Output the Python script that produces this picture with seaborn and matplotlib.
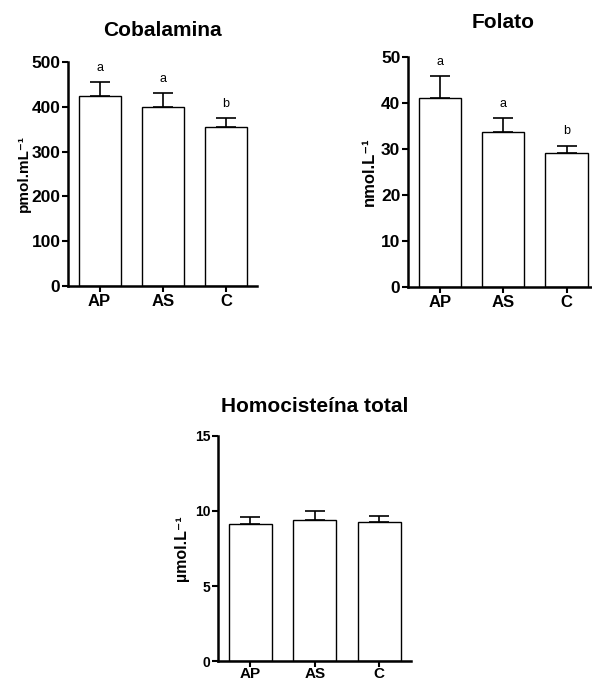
import seaborn as sns
import matplotlib.pyplot as plt
import numpy as np
import pandas as pd

groups = ["AP", "AS", "C"]

cob_mean = [423, 399, 355]
cob_sem = [32, 31, 20]
cob_letters = ["a", "a", "b"]

fol_mean = [41.1, 33.6, 29.2]
fol_sem = [4.7, 3.1, 1.5]
fol_letters = ["a", "a", "b"]

hcy_mean = [9.11, 9.42, 9.26]
hcy_sem = [0.50, 0.57, 0.38]

sns.set_style("ticks")
plt.rcParams['font.family'] = ['Liberation Sans', 'DejaVu Sans']
plt.rcParams['text.color'] = 'black'
plt.rcParams['axes.labelcolor'] = 'black'

fig = plt.figure(figsize=(5.92, 6.84), dpi=100)

ax1 = fig.add_axes([0.1149, 0.5819, 0.3193, 0.3275])
ax2 = fig.add_axes([0.6892, 0.5804, 0.3203, 0.3363])
ax3 = fig.add_axes([0.3682, 0.0336, 0.3260, 0.3290])


def panel(ax, mean, sem, title, ylabel, yticks, letters=None, yfs=12.5, xfs=12,
          lfs=11, title_pad=19, lpad=3, xpad=1.5):
    df = pd.DataFrame({"grupo": groups, "valor": mean})
    sns.barplot(data=df, x="grupo", y="valor", color="white", edgecolor="black",
                linewidth=1.0, width=0.667, errorbar=None, ax=ax, saturation=1)
    x = np.arange(len(groups))
    ax.errorbar(x, mean, yerr=[np.zeros(len(sem)), sem], fmt="none", ecolor="black",
                elinewidth=1.2, capsize=7.5, capthick=1.2)
    if letters:
        for xi, m, s, lt in zip(x, mean, sem, letters):
            ax.annotate(lt, (xi, m + s), xytext=(0, 6), textcoords="offset points",
                        ha="center", va="bottom", fontsize=9)
    ax.set_xlim(-0.5, 2.49)
    ax.set_ylim(yticks[0], yticks[-1])
    ax.set_yticks(yticks)
    ax.set_xlabel("")
    ax.set_ylabel(ylabel, fontsize=lfs, fontweight="bold", labelpad=lpad)
    ax.set_title(title, fontsize=15, fontweight="bold", pad=title_pad)
    for lbl in ax.get_xticklabels():
        lbl.set_fontweight("bold")
        lbl.set_fontsize(xfs)
    for lbl in ax.get_yticklabels():
        lbl.set_fontweight("bold")
        lbl.set_fontsize(yfs)
    for side in ["top", "right"]:
        ax.spines[side].set_visible(False)
    for side in ["left", "bottom"]:
        ax.spines[side].set_linewidth(1.8)
        ax.spines[side].set_color("black")
    ax.tick_params(axis="both", length=4, width=1.5, pad=1.5, colors="black")
    ax.tick_params(axis="x", pad=xpad)


panel(ax1, cob_mean, cob_sem, "Cobalamina", "pmol.mL⁻¹", [0, 100, 200, 300, 400, 500],
      cob_letters, title_pad=19, lpad=0.5)
panel(ax2, fol_mean, fol_sem, "Folato", "nmol.L⁻¹", [0, 10, 20, 30, 40, 50],
      fol_letters, lfs=12, title_pad=21, lpad=3)
panel(ax3, hcy_mean, hcy_sem, "Homocisteína total", "µmol.L⁻¹", [0, 5, 10, 15],
      yfs=10, xfs=11, lfs=11.5, title_pad=17, lpad=4.5, xpad=0)

fig.savefig("out.png", dpi=100)
